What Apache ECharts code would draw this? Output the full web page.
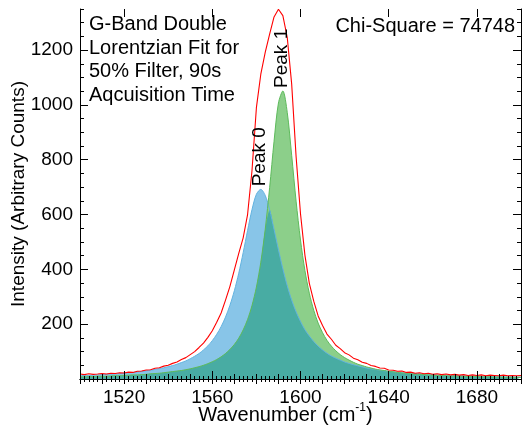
<!DOCTYPE html>
<html><head><meta charset="utf-8">
<script src="https://cdn.jsdelivr.net/npm/echarts@6/dist/echarts.min.js"></script>
<style>html,body{margin:0;padding:0;background:#fff}#c{width:523px;height:429px}</style>
</head><body><div id="c"></div>
<script>
const wavenumber = [1500,1502,1504,1506,1508,1510,1512,1514,1516,1518,
 1520,1522,1524,1526,1528,1530,1532,1534,1536,1538,
 1540,1542,1544,1546,1548,1550,1552,1554,1556,1558,
 1560,1562,1564,1566,1568,1570,1572,1574,1576,1578,
 1580,1582,1584,1586,1588,1590,1592,1594,1596,1598,
 1600,1602,1604,1606,1608,1610,1612,1614,1616,1618,
 1620,1622,1624,1626,1628,1630,1632,1634,1636,1638,
 1640,1642,1644,1646,1648,1650,1652,1654,1656,1658,
 1660,1662,1664,1666,1668,1670,1672,1674,1676,1678,
 1680,1682,1684,1686,1688,1690,1692,1694,1696,1698,1700];
const peak0 = [12,13,13,14,15,16,17,18,19,20,
 21,23,24,26,28,30,32,35,38,41,
 45,49,54,60,66,74,83,93,106,121,
 140,163,191,226,269,322,386,461,542,618,
 674,692,670,617,546,472,402,340,288,245,
 210,180,157,137,120,106,94,84,76,69,
 62,57,52,48,44,40,37,35,32,30,
 28,26,25,23,22,21,20,19,18,17,
 16,15,14,14,13,13,12,12,11,11,
 10,10,9,9,9,8,8,8,8,7,7];
const peak1 = [8,8,9,9,10,10,10,11,12,12,
 13,14,15,15,16,17,19,20,21,23,
 25,27,29,31,34,37,41,45,50,56,
 63,71,81,93,108,126,149,179,217,268,
 335,426,546,698,867,1007,1051,972,816,649,
 507,396,313,251,204,169,141,120,103,89,
 78,69,61,54,49,44,40,36,33,31,
 28,26,24,22,21,19,18,17,16,15,
 14,13,13,12,11,11,10,10,9,9,
 9,8,8,8,7,7,7,6,6,6,6];
const measured = [18,16,19,17,18,20,18,21,20,23,
 22,25,24,28,29,33,34,39,41,47,
 50,57,62,71,78,89,100,115,131,152,
 176,207,241,288,338,398,458,515,600,760,
 990,1112,1192,1258,1321,1349,1326,1246,1076,812,
 603,452,349,284,230,195,164,145,123,111,
 96,88,76,70,61,57,49,46,40,39,
 33,32,28,29,24,25,21,23,19,21,
 17,19,16,18,15,17,14,16,13,15,
 13,15,12,14,13,12,14,12,13,12,13];
const xTickLabels = [1520,1560,1600,1640,1680];
const yTickLabels = [200,400,600,800,1000,1200];
const peakNames = ['Peak 0','Peak 1'];
const peakCenters = [1582,1592];
const peakHeights = [692,1051];
const titleLines = ['G-Band Double','Lorentzian Fit for','50% Filter, 90s','Aqcuisition Time'];
const chiSquare = 74748;

// axis ranges
const X_MIN = 1500, X_MAX = 1700, Y_MIN = 0, Y_MAX = 1350;
const X_MAJOR = 40, X_MID = 10, Y_MAJOR = 200;
const FONT = "'Liberation Sans', Arial, sans-serif";

// plot frame in pixels
const L = 80, R = 2, T = 9, B = 50;
const W = 523 - L - R, H = 429 - T - B;
const pxX = W / (X_MAX - X_MIN), pxY = H / (Y_MAX - Y_MIN);
// helper grids share the same pixel scale, shifted so their ticks start at the wanted values
const xMajorMin = xTickLabels[0], xMajorMax = xTickLabels[xTickLabels.length - 1];
const gridMajorX = {left: L + (xMajorMin - X_MIN) * pxX, right: R + (X_MAX - xMajorMax) * pxX, top: T, bottom: B, outerBoundsMode: 'none'};
const yTickMax = Math.ceil(Y_MAX / Y_MAJOR) * Y_MAJOR;
const gridTickY = {left: L, right: R, top: T - (yTickMax - Y_MAX) * pxY, bottom: B, outerBoundsMode: 'none'};

const pairs = arr => wavenumber.map((w, i) => [w, arr[i]]);
const overlap = wavenumber.map((w, i) => [w, Math.min(peak0[i], peak1[i])]);
const black = {color: '#000', width: 1};
const noLabel = {show: false};
const fmt = v => String(v);

const chart = echarts.init(document.getElementById('c'), null, {renderer: 'canvas'});
const blue = '#88c5e8', green = '#8ccf8a', teal = '#48aca3';
chart.setOption({
  animation: false,
  backgroundColor: '#fff',
  textStyle: {fontFamily: FONT, color: '#000'},
  grid: [
    {left: L, right: R, top: T, bottom: B, outerBoundsMode: 'none', containLabel: false},
    gridMajorX,
    gridTickY
  ],
  xAxis: [
    // 0: data axis, bottom, ticks every 10 with minor every 2
    {type: 'value', gridIndex: 0, position: 'bottom', min: X_MIN, max: X_MAX, interval: X_MID, z: 10,
     axisLine: {show: true, lineStyle: black}, splitLine: {show: false},
     axisTick: {show: true, inside: true, length: 5, lineStyle: black},
     minorTick: {show: true, splitNumber: 5, length: 3, lineStyle: black},
     axisLabel: noLabel,
     name: 'Wavenumber (cm{sup|-1}{n|)}', nameLocation: 'middle', nameGap: 23, nameMoveOverlap: false,
     nameTextStyle: {fontSize: 20, color: '#000', fontFamily: FONT, padding: [0, 30, 0, 0], lineHeight: 26,
       rich: {n: {fontSize: 20, lineHeight: 26, fontFamily: FONT}, sup: {fontSize: 12, lineHeight: 10, verticalAlign: 'top', fontFamily: FONT}}}},
    // 1: top mirror
    {type: 'value', gridIndex: 0, position: 'top', min: X_MIN, max: X_MAX, interval: X_MID, z: 10,
     axisLine: {show: true, lineStyle: black}, splitLine: {show: false},
     axisTick: {show: true, inside: true, length: 5, lineStyle: black},
     minorTick: {show: true, splitNumber: 5, length: 3, lineStyle: black},
     axisLabel: noLabel},
    // 2: major ticks + labels, bottom
    {type: 'value', gridIndex: 1, position: 'bottom', min: xMajorMin, max: xMajorMax, interval: X_MAJOR, z: 11,
     axisLine: {show: false}, splitLine: {show: false},
     axisTick: {show: true, inside: true, length: 8, lineStyle: black},
     axisLabel: {show: true, fontSize: 19, color: '#000', margin: 9, fontFamily: FONT, formatter: fmt}},
    // 3: major ticks, top
    {type: 'value', gridIndex: 1, position: 'top', min: xMajorMin, max: xMajorMax, interval: X_MAJOR, z: 11,
     axisLine: {show: false}, splitLine: {show: false},
     axisTick: {show: true, inside: true, length: 8, lineStyle: black}, axisLabel: noLabel},
    // 4: placeholder for tick grid
    {type: 'value', gridIndex: 2, show: false, min: X_MIN, max: X_MAX}
  ],
  yAxis: [
    // 0: data axis, left (line + title)
    {type: 'value', gridIndex: 0, position: 'left', min: Y_MIN, max: Y_MAX, z: 10,
     axisLine: {show: true, lineStyle: black}, splitLine: {show: false}, axisTick: {show: false}, axisLabel: noLabel,
     name: 'Intensity (Arbitrary Counts)', nameLocation: 'middle', nameGap: 52, nameRotate: 90,
     nameTextStyle: {fontSize: 19, color: '#000', fontFamily: FONT}},
    // 1: right frame
    {type: 'value', gridIndex: 0, position: 'right', min: Y_MIN, max: Y_MAX, z: 10,
     axisLine: {show: true, lineStyle: black}, splitLine: {show: false}, axisTick: {show: false}, axisLabel: noLabel},
    // 2: placeholder for major-x grid
    {type: 'value', gridIndex: 1, show: false, min: Y_MIN, max: Y_MAX},
    // 3: ticks + labels, left
    {type: 'value', gridIndex: 2, position: 'left', min: Y_MIN, max: yTickMax, interval: Y_MAJOR, z: 11,
     axisLine: {show: false}, splitLine: {show: false},
     axisTick: {show: true, inside: true, length: 8, lineStyle: black},
     minorTick: {show: true, splitNumber: 4, length: 4, lineStyle: black},
     axisLabel: {show: true, fontSize: 19, color: '#000', margin: 7, fontFamily: FONT, formatter: fmt, showMinLabel: false, showMaxLabel: false}},
    // 4: ticks, right
    {type: 'value', gridIndex: 2, position: 'right', min: Y_MIN, max: yTickMax, interval: Y_MAJOR, z: 11,
     axisLine: {show: false}, splitLine: {show: false},
     axisTick: {show: true, inside: true, length: 8, lineStyle: black},
     minorTick: {show: true, splitNumber: 4, length: 4, lineStyle: black},
     axisLabel: noLabel}
  ],
  series: [
    {type: 'line', xAxisIndex: 0, yAxisIndex: 0, data: pairs(peak0), showSymbol: false, smooth: 0.3, lineStyle: {width: 0}, areaStyle: {color: blue, opacity: 1}, silent: true},
    {type: 'line', xAxisIndex: 0, yAxisIndex: 0, data: pairs(peak1), showSymbol: false, smooth: 0.3, lineStyle: {width: 0}, areaStyle: {color: green, opacity: 1}, silent: true},
    {type: 'line', xAxisIndex: 0, yAxisIndex: 0, data: overlap, showSymbol: false, smooth: 0.3, lineStyle: {width: 0}, areaStyle: {color: teal, opacity: 1}, silent: true},
    {type: 'line', xAxisIndex: 0, yAxisIndex: 0, data: pairs(peak0), showSymbol: false, smooth: 0.3, lineStyle: {width: 1, color: '#62b2df'}, silent: true},
    {type: 'line', xAxisIndex: 0, yAxisIndex: 0, data: pairs(peak1), showSymbol: false, smooth: 0.3, lineStyle: {width: 1, color: '#5dba5b'}, silent: true},
    {type: 'line', xAxisIndex: 0, yAxisIndex: 0, data: pairs(measured), showSymbol: false, lineStyle: {width: 1.1, color: '#ff0000'}, silent: true}
  ]
});

const graphics = [
  {type: 'text', x: 89, y: 13, z: 20, style: {text: titleLines.join('\n'), font: '20px ' + FONT, fill: '#000', lineHeight: 23.5, align: 'left', verticalAlign: 'top', textAlign: 'left', textVerticalAlign: 'top'}},
  {type: 'text', x: 515, y: 26, z: 20, style: {text: 'Chi-Square = ' + chiSquare, font: '20px ' + FONT, fill: '#000', align: 'right', verticalAlign: 'middle', textAlign: 'right', textVerticalAlign: 'middle'}}
];
peakNames.forEach((name, i) => {
  const p = chart.convertToPixel({xAxisIndex: 0, yAxisIndex: 0}, [peakCenters[i], peakHeights[i]]);
  graphics.push({type: 'text', x: p[0] - 1, y: p[1] - 3, rotation: Math.PI / 2, z: 20,
    style: {text: name, font: '19px ' + FONT, fill: '#000', align: 'left', verticalAlign: 'middle', textAlign: 'left', textVerticalAlign: 'middle'}});
});
chart.setOption({graphic: graphics});
</script>
</body></html>
